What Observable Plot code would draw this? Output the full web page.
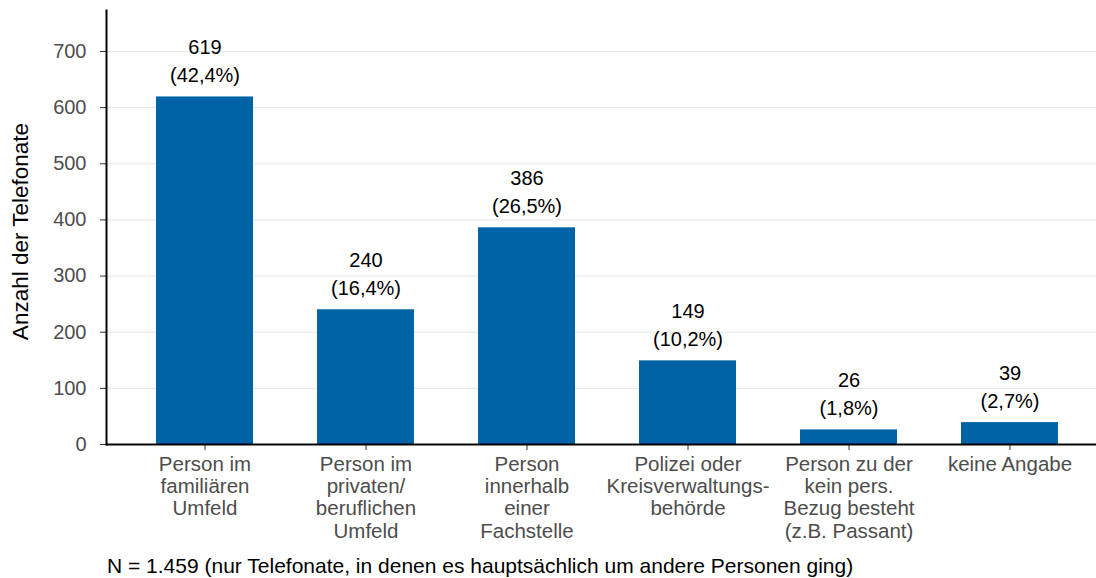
<!DOCTYPE html>
<html>
<head>
<meta charset="utf-8">
<script src="https://cdn.jsdelivr.net/npm/d3@7"></script>
<script src="https://cdn.jsdelivr.net/npm/@observablehq/plot@0.6"></script>
<style>
  html, body { margin: 0; padding: 0; background: #fff; }
  body { width: 1096px; height: 578px; overflow: hidden; font-family: "Liberation Sans", Arial, sans-serif; }
  #caption { margin-left: 107px; margin-top: 2px; font-size: 21px; line-height: 24px; color: #000; white-space: nowrap; }
</style>
</head>
<body>
<div id="chart"></div>
<div id="caption"></div>
<script>
const categories = [
  "Person im\nfamiliären\nUmfeld",
  "Person im\nprivaten/\nberuflichen\nUmfeld",
  "Person\ninnerhalb\neiner\nFachstelle",
  "Polizei oder\nKreisverwaltungs-\nbehörde",
  "Person zu der\nkein pers.\nBezug besteht\n(z.B. Passant)",
  "keine Angabe"
];
const counts = [619, 240, 386, 149, 26, 39];
const percents = ["(42,4%)", "(16,4%)", "(26,5%)", "(10,2%)", "(1,8%)", "(2,7%)"];
const yTicks = [0, 100, 200, 300, 400, 500, 600, 700];
const yTitle = "Anzahl der Telefonate";
const captionText = "N = 1.459 (nur Telefonate, in denen es hauptsächlich um andere Personen ging)";

const data = categories.map((c, i) => ({cat: c, n: counts[i], pct: percents[i]}));

const chart = Plot.plot({
  width: 1096,
  height: 552,
  marginLeft: 106,
  marginRight: 0,
  marginTop: 10,
  marginBottom: 108,
  style: {fontFamily: "Liberation Sans, Arial, sans-serif", fontSize: "20px", background: "#fff"},
  x: {domain: categories, paddingInner: 0.4, paddingOuter: 0.267, align: 0.569, label: null},
  y: {domain: [0, 773], label: null},
  marks: [
    Plot.gridY(yTicks, {stroke: "#e5e5e5", strokeOpacity: 1, strokeWidth: 1}),
    Plot.barY(data, {x: "cat", y: "n", fill: "#0063a6"}),
    Plot.text(data, {x: "cat", y: "n", text: d => String(d.n), dy: -49, fill: "#000", fontSize: 20}),
    Plot.text(data, {x: "cat", y: "n", text: "pct", dy: -21, fill: "#000", fontSize: 20}),
    Plot.axisY(yTicks, {tickSize: 6, tickPadding: 14, fill: "#4d4d4d", stroke: "#333", label: null, fontSize: 20}),
    Plot.axisX({tickSize: 6, tickPadding: 5, fill: "#4d4d4d", stroke: "#333", label: null, lineHeight: 1.08, fontSize: 20.5}),
    Plot.text([yTitle], {frameAnchor: "left", textAnchor: "middle", rotate: -90, dx: -86, dy: 4, fill: "#000", fontSize: 22.5}),
    Plot.ruleY([0], {stroke: "#000", strokeWidth: 2}),
    Plot.frame({anchor: "left", stroke: "#000", strokeWidth: 2})
  ]
});
document.getElementById("chart").appendChild(chart);
document.getElementById("caption").textContent = captionText;
</script>
</body>
</html>
